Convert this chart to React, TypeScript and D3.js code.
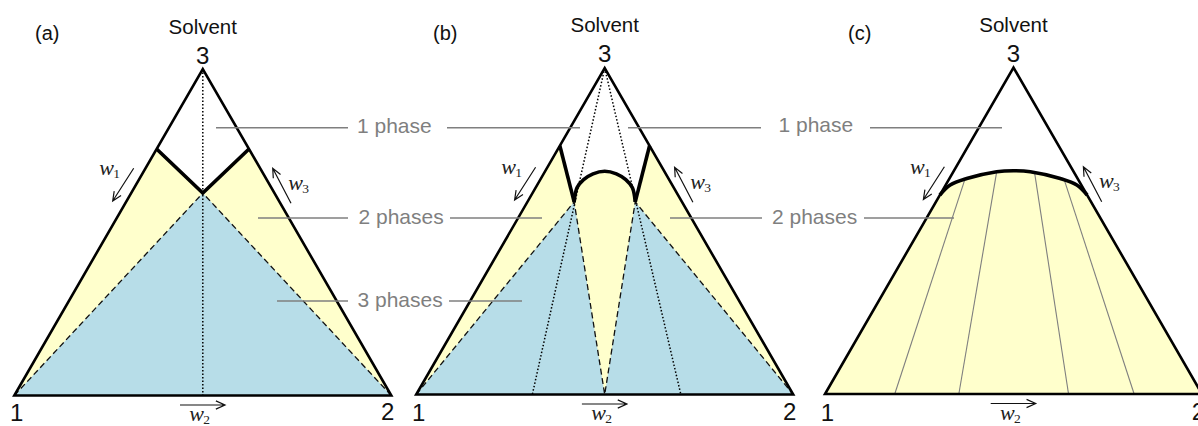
import React from 'react';
import * as d3 from 'd3';

type Comp = [number, number, number]; // [w1, w2, w3]

// ---------- data (ternary compositions w1, w2, w3) ----------
const vertexNames = ['1', '2', '3'];
const apexName = 'Solvent';
const panelTags = ['(a)', '(b)', '(c)'];
const phaseNames = ['1 phase', '2 phases', '3 phases'];

const V1: Comp = [1, 0, 0];
const V2: Comp = [0, 1, 0];
const V3: Comp = [0, 0, 1];

// panel (a)
const aCornerLeft: Comp = [0.245, 0, 0.755];
const aCenter: Comp = [0.19, 0.19, 0.62];
const aCornerRight: Comp = [0, 0.245, 0.755];
const aBaseMid: Comp = [0.5, 0.5, 0];

// panel (b)
const bCornerLeft: Comp = [0.238, 0, 0.762];
const bTipLeft: Comp = [0.286, 0.124, 0.59];
const bTipRight: Comp = [0.124, 0.286, 0.59];
const bCornerRight: Comp = [0, 0.238, 0.762];
const bBaseMid: Comp = [0.5, 0.5, 0];
const bArc: Comp[] = [
  [0.286, 0.124, 0.59],
  [0.257, 0.11, 0.633],
  [0.227, 0.115, 0.658],
  [0.193, 0.131, 0.676],
  [0.158, 0.158, 0.684],
  [0.131, 0.193, 0.676],
  [0.115, 0.227, 0.658],
  [0.11, 0.257, 0.633],
  [0.124, 0.286, 0.59],
];
const bDottedEnds: Comp[] = [
  [0.692, 0.308, 0],
  [0.298, 0.702, 0],
];

// panel (c)
const cBinodal: Comp[] = [
  [0.3905, 0, 0.6095],
  [0.348, 0.012, 0.64],
  [0.294, 0.046, 0.66],
  [0.204, 0.115, 0.681],
  [0.158, 0.158, 0.684],
  [0.115, 0.204, 0.681],
  [0.046, 0.294, 0.66],
  [0.012, 0.348, 0.64],
  [0, 0.3905, 0.6095],
];
const cTieTop: Comp[] = [
  [0.299, 0.042, 0.659],
  [0.204, 0.115, 0.681],
  [0.104, 0.215, 0.681],
  [0.037, 0.305, 0.658],
];
const cTieBottom: Comp[] = [
  [0.815, 0.185, 0],
  [0.645, 0.355, 0],
  [0.354, 0.646, 0],
  [0.18, 0.82, 0],
];

// ---------- layout / style ----------
const W = 1198;
const H = 426;
const SIDE = 377;
const panels = [
  { left: 14.3, base: 395.5, tagX: 35, solventY: 34, apexY: 64 },
  { left: 416.2, base: 394.5, tagX: 433, solventY: 32, apexY: 62 },
  { left: 825, base: 394, tagX: 848, solventY: 32, apexY: 62 },
];
const YELLOW = '#FFFFCC';
const BLUE = '#B7DDE8';
const GRAY = '#7F7F7F';
const SANS = '"Liberation Sans", Arial, sans-serif';
const SERIF = '"Liberation Serif", "Times New Roman", serif';

function makeProj(left: number, base: number) {
  const x = d3.scaleLinear().domain([0, 1]).range([left, left + SIDE]);
  const y = d3.scaleLinear().domain([0, 1]).range([base, base - (SIDE * Math.sqrt(3)) / 2]);
  return (c: Comp): [number, number] => [x(c[1] + c[2] / 2), y(c[2])];
}

const poly = (pts: [number, number][]) => d3.line()(pts) + 'Z';
const lin = (pts: [number, number][]) => d3.line()(pts) as string;
const smooth = (pts: [number, number][]) =>
  d3.line().curve(d3.curveCatmullRom.alpha(0.5))(pts) as string;

function arrow(x1: number, y1: number, x2: number, y2: number) {
  const a = Math.atan2(y2 - y1, x2 - x1);
  const s = 10;
  const da = 0.42;
  const h1: [number, number] = [x2 - s * Math.cos(a - da), y2 - s * Math.sin(a - da)];
  const h2: [number, number] = [x2 - s * Math.cos(a + da), y2 - s * Math.sin(a + da)];
  return `M${x1},${y1}L${x2},${y2}M${h1[0]},${h1[1]}L${x2},${y2}L${h2[0]},${h2[1]}`;
}

// arrows relative to panel (left, base)
const arrowW1 = [119.4, -227.2, 98.4, -194.5];
const arrowW3 = [276.7, -192.2, 258.4, -227.2];
const arrowW2 = [165.7, 9.5, 210.7, 9.5];

function WLabel({ x, y, sub }: { x: number; y: number; sub: string }) {
  return (
    <g>
      <text x={x} y={y} fontFamily={SERIF} fontStyle="italic" fontSize={22} fill="#222">
        w
      </text>
      <text x={x + 14} y={y + 3} fontFamily={SERIF} fontSize={13.5} fill="#222">
        {sub}
      </text>
    </g>
  );
}

function PhaseLabel({ x, y, t }: { x: number; y: number; t: string }) {
  return (
    <text x={x} y={y} fontFamily={SANS} fontSize={21} fill={GRAY}>
      {t}
    </text>
  );
}

function Leader({ x1, x2, y }: { x1: number; x2: number; y: number }) {
  return <line x1={x1} x2={x2} y1={y} y2={y} stroke={GRAY} strokeWidth={1.4} />;
}

function Frame({ i, children }: { i: number; children?: React.ReactNode }) {
  const p = panels[i];
  const P = makeProj(p.left, p.base);
  const v1 = P(V1);
  const v2 = P(V2);
  const v3 = P(V3);
  const L = p.left;
  const B = p.base;
  return (
    <g>
      {children}
      <path d={poly([v1, v2, v3])} fill="none" stroke="#000" strokeWidth={2.6} strokeLinejoin="miter" />
      <text x={p.tagX} y={40} fontFamily={SANS} fontSize={20} fill="#111">
        {panelTags[i]}
      </text>
      <text x={v3[0]} y={p.solventY} textAnchor="middle" fontFamily={SANS} fontSize={20.5} fill="#111">
        {apexName}
      </text>
      <text x={v3[0]} y={p.apexY} textAnchor="middle" fontFamily={SANS} fontSize={24} fill="#111">
        {vertexNames[2]}
      </text>
      <text x={v1[0] + 2.5} y={421} textAnchor="middle" fontFamily={SANS} fontSize={24} fill="#111">
        {vertexNames[0]}
      </text>
      <text x={v2[0] - 3.5} y={420} textAnchor="middle" fontFamily={SANS} fontSize={24} fill="#111">
        {vertexNames[1]}
      </text>
      <path d={arrow(L + arrowW1[0], B + arrowW1[1], L + arrowW1[2], B + arrowW1[3])} fill="none" stroke="#111" strokeWidth={1.2} />
      <path d={arrow(L + arrowW3[0], B + arrowW3[1], L + arrowW3[2], B + arrowW3[3])} fill="none" stroke="#111" strokeWidth={1.2} />
      <path d={arrow(L + arrowW2[0], B + arrowW2[1], L + arrowW2[2], B + arrowW2[3])} fill="none" stroke="#111" strokeWidth={1.2} />
      <WLabel x={L + 85} y={B - 220.5} sub="1" />
      <WLabel x={L + 274} y={B - 206} sub="3" />
      <WLabel x={L + 175} y={B + 25.5} sub="2" />
    </g>
  );
}

const dotted = { stroke: '#000', strokeWidth: 1.5, strokeDasharray: '1.5,2', fill: 'none' };
const dashed = { stroke: '#111', strokeWidth: 1.3, strokeDasharray: '6,3.5', fill: 'none' };
const thick = { stroke: '#000', strokeWidth: 3.6, fill: 'none', strokeLinejoin: 'miter' as const };

function PanelA() {
  const p = panels[0];
  const P = makeProj(p.left, p.base);
  const v1 = P(V1), v2 = P(V2), v3 = P(V3);
  const cl = P(aCornerLeft), c = P(aCenter), cr = P(aCornerRight);
  return (
    <Frame i={0}>
      <path d={poly([v1, cl, c, cr, v2])} fill={YELLOW} />
      <path d={poly([v1, c, v2])} fill={BLUE} />
      <path d={lin([v3, P(aBaseMid)])} {...dotted} />
      <path d={lin([v1, c])} {...dashed} />
      <path d={lin([v2, c])} {...dashed} />
      <path d={lin([cl, c, cr])} {...thick} />
    </Frame>
  );
}

function PanelB() {
  const p = panels[1];
  const P = makeProj(p.left, p.base);
  const v1 = P(V1), v2 = P(V2), v3 = P(V3);
  const cl = P(bCornerLeft), tl = P(bTipLeft), tr = P(bTipRight), cr = P(bCornerRight);
  const bm = P(bBaseMid);
  const arcPts = bArc.map(P);
  const arcD = smooth(arcPts);
  const yellowD =
    lin([v1, cl, tl]) + arcD.replace(/^M/, 'L') + lin([tr, cr, v2]).replace(/^M/, 'L') + 'Z';
  return (
    <Frame i={1}>
      <path d={yellowD} fill={YELLOW} />
      <path d={poly([v1, tl, bm])} fill={BLUE} />
      <path d={poly([bm, tr, v2])} fill={BLUE} />
      {bDottedEnds.map((e, k) => (
        <path key={k} d={lin([v3, P(e)])} {...dotted} />
      ))}
      <path d={lin([v1, tl, bm, tr, v2])} {...dashed} />
      <path d={lin([cl, tl])} {...thick} />
      <path d={arcD} {...thick} />
      <path d={lin([tr, cr])} {...thick} />
    </Frame>
  );
}

function PanelC() {
  const p = panels[2];
  const P = makeProj(p.left, p.base);
  const v1 = P(V1), v2 = P(V2);
  const bin = cBinodal.map(P);
  const binD = smooth(bin);
  const yellowD = lin([v1, bin[0]]) + binD.replace(/^M/, 'L') + lin([bin[bin.length - 1], v2]).replace(/^M/, 'L') + 'Z';
  return (
    <Frame i={2}>
      <path d={yellowD} fill={YELLOW} />
      {cTieTop.map((t, k) => (
        <path key={k} d={lin([P(t), P(cTieBottom[k])])} stroke={GRAY} strokeWidth={1.1} fill="none" />
      ))}
      <path d={binD} {...thick} />
    </Frame>
  );
}

export default function App() {
  return (
    <svg
      width={W}
      height={H}
      viewBox={`0 0 ${W} ${H}`}
      style={{ position: 'absolute', left: 0, top: 0, display: 'block', background: '#fff' }}
    >
      <rect x={0} y={0} width={W} height={H} fill="#fff" />
      <PanelA />
      <PanelB />
      <PanelC />
      {/* leader lines */}
      <Leader x1={216} x2={348} y={127.7} />
      <Leader x1={258} x2={348} y={218} />
      <Leader x1={277} x2={348} y={301} />
      <Leader x1={447} x2={580} y={127.7} />
      <Leader x1={450} x2={542} y={218} />
      <Leader x1={449} x2={522} y={301} />
      <Leader x1={628} x2={761} y={127.7} />
      <Leader x1={670} x2={762} y={218} />
      <Leader x1={870} x2={1002} y={127.7} />
      <Leader x1={864} x2={954} y={218} />
      {/* phase labels */}
      <PhaseLabel x={357} y={132.5} t={phaseNames[0]} />
      <PhaseLabel x={358.5} y={224} t={phaseNames[1]} />
      <PhaseLabel x={357.5} y={306.5} t={phaseNames[2]} />
      <PhaseLabel x={778.5} y={132} t={phaseNames[0]} />
      <PhaseLabel x={772} y={224} t={phaseNames[1]} />
    </svg>
  );
}
